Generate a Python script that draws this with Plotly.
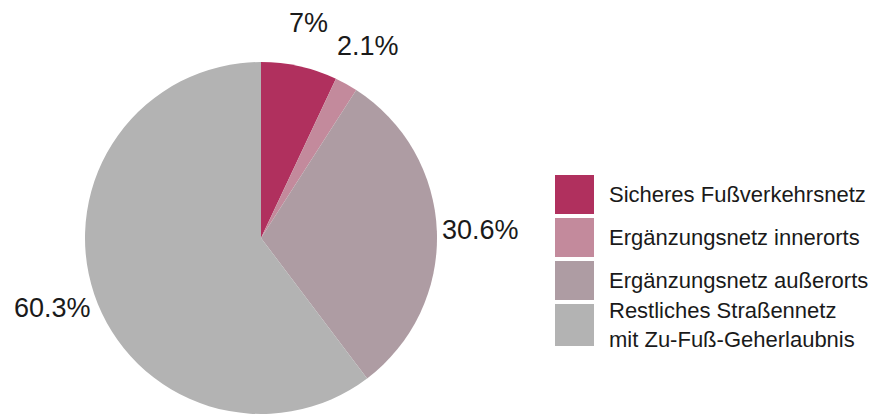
import math
import plotly.graph_objects as go

# Anteile am Straßennetz mit Zu-Fuß-Geherlaubnis (in %)
labels = [
    "Sicheres Fußverkehrsnetz",
    "Ergänzungsnetz innerorts",
    "Ergänzungsnetz außerorts",
    "Restliches Straßennetz<br>mit Zu-Fuß-Geherlaubnis",
]
values = [7.0, 2.1, 30.6, 60.3]
value_text = ["7%", "2.1%", "30.6%", "60.3%"]
colors = ["#B0305E", "#C38A9C", "#AE9CA3", "#B3B3B3"]

W, H = 875, 414
cx, cy, r = 261, 238, 176  # pie centre / radius in px (from top-left)

fig = go.Figure(
    go.Pie(
        labels=labels,
        values=values,
        marker=dict(colors=colors, line=dict(width=0)),
        sort=False,
        direction="clockwise",
        rotation=0,
        textinfo="none",
        hoverinfo="label+percent",
        showlegend=False,
        domain=dict(x=[(cx - r) / W, (cx + r) / W], y=[(H - cy - r) / H, (H - cy + r) / H]),
    )
)

font = "Liberation Sans, Arial, sans-serif"
annotations = []
shapes = []

# value labels outside the slices, placed along each slice's mid-angle
total = sum(values)
cum = 0.0
label_r = 220
for v, t in zip(values, value_text):
    mid = (cum + v / 2) / total * 2 * math.pi
    cum += v
    x = cx + label_r * math.sin(mid)
    y = cy - label_r * math.cos(mid)
    annotations.append(dict(
        x=x / W, y=1 - y / H, xref="paper", yref="paper",
        text=t, showarrow=False, xanchor="center", yanchor="middle",
        font=dict(family=font, size=27, color="#1a1a1a"),
    ))

# legend: coloured boxes with labels
box_x0, box_size, row_step, box_top = 555, 39, 43, 175
for i, (lab, col) in enumerate(zip(labels, colors)):
    y0 = box_top + i * row_step
    y1 = y0 + box_size + (3 if i == len(labels) - 1 else 0)
    shapes.append(dict(
        type="rect", xref="paper", yref="paper",
        x0=box_x0 / W, x1=(box_x0 + box_size) / W,
        y0=1 - y1 / H, y1=1 - y0 / H,
        fillcolor=col, line=dict(width=0),
    ))
    annotations.append(dict(
        x=607 / W, y=1 - ((y0 + y1) / 2) / H, xref="paper", yref="paper",
        text=lab, showarrow=False, xanchor="left", yanchor="middle", align="left",
        font=dict(family=font, size=22, color="#1a1a1a"),
    ))

fig.update_layout(
    width=W, height=H,
    margin=dict(l=0, r=0, t=0, b=0),
    paper_bgcolor="white", plot_bgcolor="white",
    annotations=annotations, shapes=shapes,
)

fig.write_html("out.html")
